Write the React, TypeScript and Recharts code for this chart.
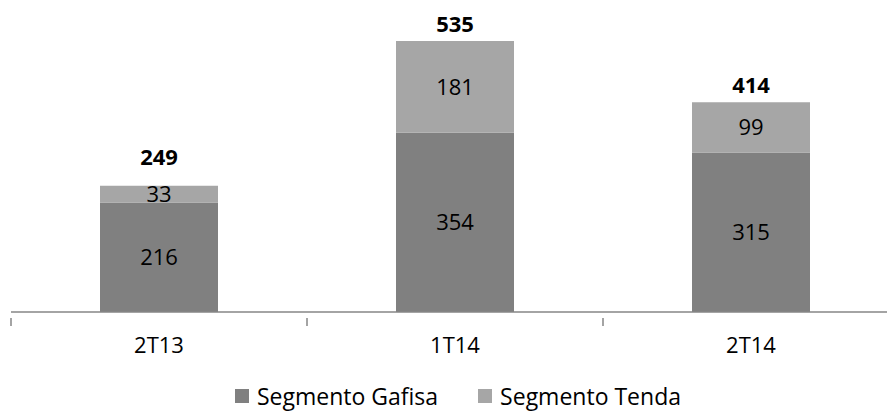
import { BarChart, Bar, XAxis, YAxis, LabelList, Legend } from "recharts";

const categories = ["2T13", "1T14", "2T14"];
const gafisa = [216, 354, 315];
const tenda = [33, 181, 99];
const totals = [249, 535, 414];

const data = categories.map((name, i) => ({
  name,
  gafisa: gafisa[i],
  tenda: tenda[i],
  total: totals[i],
}));

const FONT = "'Open Sans', sans-serif";
const AXIS = "#868686";

// category tick: label plus a tick mark on the left boundary of the band (and the right one for the last)
const CatTick = (props: any) => {
  const { x, y, payload, index, visibleTicksCount } = props;
  const half = payload?.offset ?? 148;
  const top = y - 19;
  return (
    <g>
      <line x1={x - half} x2={x - half} y1={top} y2={top + 8} stroke={AXIS} strokeWidth={1.5} />
      {index === visibleTicksCount - 1 && (
        <line x1={x + half} x2={x + half} y1={top} y2={top + 8} stroke={AXIS} strokeWidth={1.5} />
      )}
      <text x={x} y={y} dy="0.71em" textAnchor="middle" fill="#000" fontSize={22} fontFamily={FONT}>
        {payload.value}
      </text>
    </g>
  );
};

// total label above the stacked bar, pushed up a bit more when the top segment is thin
const TotalLabel = (props: any) => {
  const { x, y, width, height, value } = props;
  const gap = height < 25 ? 30 : 18;
  return (
    <text
      x={x + width / 2}
      y={y - gap}
      textAnchor="middle"
      dominantBaseline="central"
      fontFamily={FONT}
      fontWeight="bold"
      fontSize={22}
      fill="#000"
    >
      {value}
    </text>
  );
};

const LegendContent = () => {
  const items = [
    { label: "Segmento Gafisa", color: "#808080" },
    { label: "Segmento Tenda", color: "#a6a6a6" },
  ];
  return (
    <div style={{ display: "flex", justifyContent: "center", gap: 40, fontFamily: FONT, fontSize: 23, paddingLeft: 6 }}>
      {items.map((it) => (
        <div key={it.label} style={{ display: "flex", alignItems: "center" }}>
          <span style={{ width: 14, height: 14, background: it.color, marginRight: 8 }} />
          <span style={{ color: "#000" }}>{it.label}</span>
        </div>
      ))}
    </div>
  );
};

export default function App() {
  return (
    <div style={{ position: "absolute", left: 0, top: 0, width: 887, height: 414, overflow: "hidden", background: "#fff" }}>
      <BarChart
        width={900}
        height={430}
        data={data}
        margin={{ top: 8, right: 1, bottom: 14, left: 11 }}
        barSize={118}
      >
        <XAxis
          dataKey="name"
          axisLine={{ stroke: AXIS, strokeWidth: 1.5 }}
          tickLine={false}
          height={68}
          tickMargin={19}
          tick={<CatTick />}
        />
        <YAxis hide domain={[0, 600]} />
        <Legend verticalAlign="bottom" height={36} content={<LegendContent />} />
        <Bar dataKey="gafisa" stackId="a" fill="#808080" isAnimationActive={false}>
          <LabelList dataKey="gafisa" position="center" fill="#000" fontSize={22} fontFamily={FONT} />
        </Bar>
        <Bar dataKey="tenda" stackId="a" fill="#a6a6a6" isAnimationActive={false}>
          <LabelList dataKey="tenda" position="center" fill="#000" fontSize={22} fontFamily={FONT} />
          <LabelList dataKey="total" content={<TotalLabel />} />
        </Bar>
      </BarChart>
    </div>
  );
}
